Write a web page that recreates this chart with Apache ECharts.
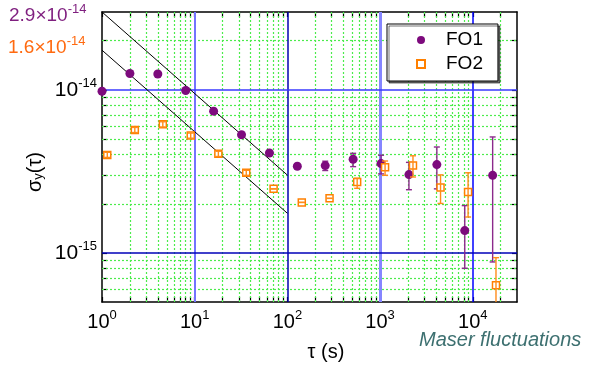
<!DOCTYPE html>
<html><head><meta charset="utf-8">
<script src="https://cdn.jsdelivr.net/npm/echarts@6/dist/echarts.min.js"></script>
<style>html,body{margin:0;padding:0;background:#fff}#c{width:589px;height:366px}</style>
</head><body><div id="c"></div>
<script>
// ---------------- data (sigma values in units of 1e-15) ----------------
const SIGMA_UNIT_EXP = -15;
const tauFO1   = [1, 2, 4, 8, 16, 32, 64, 128, 256, 512, 1024, 2048, 4096, 8192, 16384];
const sigmaFO1 = [9.8, 12.6, 12.5, 9.9, 7.4, 5.3, 4.1, 3.4, 3.43, 3.75, 3.53, 3.02, 3.48, 1.37, 2.99];
const lowFO1   = [9.8, 12.6, 12.5, 9.9, 7.4, 5.3, 4.1, 3.4, 3.2, 3.38, 3.05, 2.44, 2.47, 0.805, 0.88];
const highFO1  = [9.8, 12.6, 12.5, 9.9, 7.4, 5.3, 4.1, 3.4, 3.65, 4.08, 3.97, 3.59, 4.46, 1.95, 5.14];

const tauFO2   = [1.14, 2.26, 4.53, 9.06, 18.0, 36.0, 71.0, 143, 285, 566, 1132, 2264, 4490, 8900, 17800];
const sigmaFO2 = [3.99, 5.67, 6.14, 5.24, 4.05, 3.10, 2.47, 2.04, 2.16, 2.72, 3.35, 3.43, 2.52, 2.36, 0.634];
const lowFO2   = [3.85, 5.47, 5.92, 5.05, 3.9, 2.99, 2.47, 2.04, 2.16, 2.49, 2.99, 2.92, 2.01, 1.66, 0.30];
const highFO2  = [4.14, 5.88, 6.37, 5.43, 4.2, 3.21, 2.47, 2.04, 2.16, 2.87, 3.66, 3.94, 3.01, 3.10, 0.935];

const fitTau   = [1, 100];
const fitUpper = [30.0, 3.0];
const fitLower = [17.5, 1.75];

const xMajorTicks = [1, 10, 100, 1000, 10000];
const yMajorTicks = [1, 10];
const minorMultipliers = [2, 3, 4, 5, 6, 7, 8, 9];
const xDecades = [1, 10, 100, 1000, 10000];
const yDecades = [0.1, 1, 10];
const xRange = [1, 30000];
const yRange = [0.5, 30];

const fitLabelMant = ['2.9×10', '1.6×10'];
const fitLabelExp  = ['-14', '-14'];
const seriesNames  = ['FO1', 'FO2'];
const noteText = 'Maser fluctuations';

// ---------------- helpers ----------------
function minorValues(decades, range) {
  const out = [];
  decades.forEach(d => minorMultipliers.forEach(m => {
    const v = +(d * m).toPrecision(6);
    if (v > range[0] * 1.0001 && v < range[1] * 0.9999) out.push(v);
  }));
  return out;
}
const xMinor = minorValues(xDecades, xRange);
const yMinor = minorValues(yDecades, yRange);
const xTickVals = xMinor.concat(xMajorTicks).sort((a, b) => a - b);
const yTickVals = yMinor.concat(yMajorTicks).sort((a, b) => a - b);

const FONT = '"Liberation Sans", Arial, sans-serif';
const PURPLE = '#7d0a7d';
const ORANGE = '#ff8000';

function powLabel(offset) {
  return function (v) {
    const l = Math.log10(v);
    const e = Math.round(l);
    if (Math.abs(l - e) > 1e-6) return '';
    return '{b|10}{s|' + (e + offset) + '}';
  };
}
const labelRichX = {
  b: {fontSize: 20, fontFamily: FONT, color: '#000', lineHeight: 22, verticalAlign: 'bottom'},
  s: {fontSize: 13, fontFamily: FONT, color: '#000', lineHeight: 13, padding: [0, 0, 10, 0], verticalAlign: 'bottom'}
};
const labelRichY = {
  b: {fontSize: 21, fontFamily: FONT, color: '#000', lineHeight: 22, verticalAlign: 'bottom'},
  s: {fontSize: 13, fontFamily: FONT, color: '#000', lineHeight: 13, padding: [0, 0, 11, 0], verticalAlign: 'bottom'}
};

const minorGridStyle = {color: '#4cec4c', width: 1.2, type: [2, 2]};
const xMajorStyles = {
  10:    {color: '#7373ff', width: 2, type: 'solid'},
  100:   {color: '#0000b0', width: 1.5, type: 'solid'},
  1000:  {color: '#8585ff', width: 3, type: 'solid'},
  10000: {color: '#0000ff', width: 1.5, type: 'solid'}
};
const yMajorStyles = {
  10: {color: '#3a3aff', width: 1.5, type: 'solid'},
  1:  {color: '#0000b8', width: 1.5, type: 'solid'}
};

const gridLines = [];
xMinor.forEach(v => gridLines.push({xAxis: v, lineStyle: minorGridStyle}));
yMinor.forEach(v => gridLines.push({yAxis: v, lineStyle: minorGridStyle}));
xMajorTicks.forEach(v => { if (xMajorStyles[v]) gridLines.push({xAxis: v, lineStyle: xMajorStyles[v]}); });
yMajorTicks.forEach(v => { if (yMajorStyles[v]) gridLines.push({yAxis: v, lineStyle: yMajorStyles[v]}); });

function errRender(color) {
  return function (params, api) {
    const x = api.value(0), lo = api.value(1), hi = api.value(2);
    const pLo = api.coord([x, lo]), pHi = api.coord([x, hi]);
    const w = 3;
    const st = {stroke: color, lineWidth: 1.4, fill: null};
    return {type: 'group', children: [
      {type: 'line', shape: {x1: pLo[0], y1: pLo[1], x2: pHi[0], y2: pHi[1]}, style: st},
      {type: 'line', shape: {x1: pLo[0] - w, y1: pLo[1], x2: pLo[0] + w, y2: pLo[1]}, style: st},
      {type: 'line', shape: {x1: pHi[0] - w, y1: pHi[1], x2: pHi[0] + w, y2: pHi[1]}, style: st}
    ]};
  };
}

function xAxisDef(pos, showLabel) {
  return {
    type: 'log', logBase: 10, min: xRange[0], max: xRange[1], position: pos,
    axisLine: {show: true, lineStyle: {color: '#000', width: 1.5}},
    axisTick: {show: true, inside: true, length: 5, customValues: xTickVals, lineStyle: {color: '#000', width: 1.2}},
    axisLabel: {show: showLabel, customValues: xMajorTicks, formatter: powLabel(0), rich: labelRichX, margin: 8},
    splitLine: {show: false}, minorTick: {show: false}, minorSplitLine: {show: false}
  };
}
function yAxisDef(pos, showLabel) {
  return {
    type: 'log', logBase: 10, min: yRange[0], max: yRange[1], position: pos,
    axisLine: {show: true, lineStyle: {color: '#000', width: 1.5}},
    axisTick: {show: true, inside: true, length: 5, customValues: yTickVals, lineStyle: {color: '#000', width: 1.2}},
    axisLabel: {show: showLabel, customValues: yMajorTicks, formatter: powLabel(SIGMA_UNIT_EXP), rich: labelRichY, margin: 5},
    splitLine: {show: false}, minorTick: {show: false}, minorSplitLine: {show: false}
  };
}

function supText(mant, exp, color, size) {
  return {
    text: '{b|' + mant + '}{s|' + exp + '}',
    rich: {
      b: {fontSize: size, fontFamily: FONT, fill: color, color: color, lineHeight: 20, verticalAlign: 'bottom'},
      s: {fontSize: 13, fontFamily: FONT, fill: color, color: color, lineHeight: 13, padding: [0, 0, 9, 0], verticalAlign: 'bottom'}
    }
  };
}

const chart = echarts.init(document.getElementById('c'), null, {renderer: 'canvas'});
chart.setOption({
  animation: false,
  backgroundColor: '#fff',
  grid: {left: 102, top: 12, right: 72, bottom: 64},
  xAxis: [xAxisDef('bottom', true), xAxisDef('top', false)],
  yAxis: [yAxisDef('left', true), yAxisDef('right', false)],
  legend: {
    z: 20,
    data: seriesNames, orient: 'vertical', left: 387, top: 24,
    padding: [6, 15, 7, 29], itemGap: 4, itemWidth: 8, itemHeight: 8,
    backgroundColor: '#fff', borderColor: '#000', borderWidth: 1, borderRadius: 0,
    shadowColor: 'rgba(0,0,0,0.55)', shadowOffsetX: 2, shadowOffsetY: 2, shadowBlur: 0,
    textStyle: {fontSize: 19, fontFamily: FONT, color: '#000', lineHeight: 20, padding: [0, 0, 0, 16]},
    selectedMode: false
  },
  graphic: [
    {type: 'text', x: 9, y: 15, style: Object.assign(supText(fitLabelMant[0], fitLabelExp[0], '#7f1f7f', 19), {align: 'left', verticalAlign: 'middle'})},
    {type: 'text', x: 8, y: 47, style: Object.assign(supText(fitLabelMant[1], fitLabelExp[1], '#ff6a10', 19), {align: 'left', verticalAlign: 'middle'})},
    {type: 'text', x: 326, y: 352, style: {text: 'τ (s)', fontSize: 20, fontFamily: FONT, fill: '#000', align: 'center', verticalAlign: 'middle'}},
    {type: 'text', x: 34, y: 172, rotation: Math.PI / 2, style: {
      text: '{a|σ}{y|y}{a|(τ)}', align: 'center', verticalAlign: 'middle',
      rich: {
        a: {fontSize: 20, fontFamily: FONT, fill: '#000', color: '#000', lineHeight: 22, verticalAlign: 'bottom'},
        y: {fontSize: 13, fontFamily: FONT, fill: '#000', color: '#000', lineHeight: 13, verticalAlign: 'bottom'}
      }}},
    {type: 'text', x: 419, y: 340, style: {text: noteText, fontSize: 20, fontStyle: 'italic', fontFamily: FONT, fill: '#3d7070', align: 'left', verticalAlign: 'middle'}}
  ],
  series: [
    {
      name: 'grid', type: 'line', data: [], z: 1, silent: true,
      markLine: {z: 1, silent: true, symbol: ['none', 'none'], label: {show: false}, animation: false,
        emphasis: {disabled: true}, data: gridLines}
    },
    {name: 'fitU', type: 'line', z: 3, silent: true, symbol: 'none',
      data: fitTau.map((t, i) => [t, fitUpper[i]]), lineStyle: {color: '#000', width: 1}},
    {name: 'fitL', type: 'line', z: 3, silent: true, symbol: 'none',
      data: fitTau.map((t, i) => [t, fitLower[i]]), lineStyle: {color: '#000', width: 1}},
    {name: 'errFO1', type: 'custom', z: 4, silent: true, clip: true,
      renderItem: errRender('#8b2a8b'), encode: {x: 0, y: [1, 2]},
      data: tauFO1.map((t, i) => [t, lowFO1[i], highFO1[i]])},
    {name: seriesNames[0], type: 'scatter', z: 5, symbol: 'circle', symbolSize: 9,
      itemStyle: {color: PURPLE, opacity: 1},
      data: tauFO1.map((t, i) => [t, sigmaFO1[i]])},
    {name: seriesNames[1], type: 'scatter', z: 5, symbol: 'rect', symbolSize: 7,
      itemStyle: {color: '#fff', borderColor: ORANGE, borderWidth: 1.5, opacity: 1},
      data: tauFO2.map((t, i) => [t, sigmaFO2[i]])},
    {name: 'errFO2', type: 'custom', z: 6, silent: true, clip: true,
      renderItem: errRender('#ff8c1a'), encode: {x: 0, y: [1, 2]},
      data: tauFO2.map((t, i) => [t, lowFO2[i], highFO2[i]])}
  ]
});
</script>
</body></html>
